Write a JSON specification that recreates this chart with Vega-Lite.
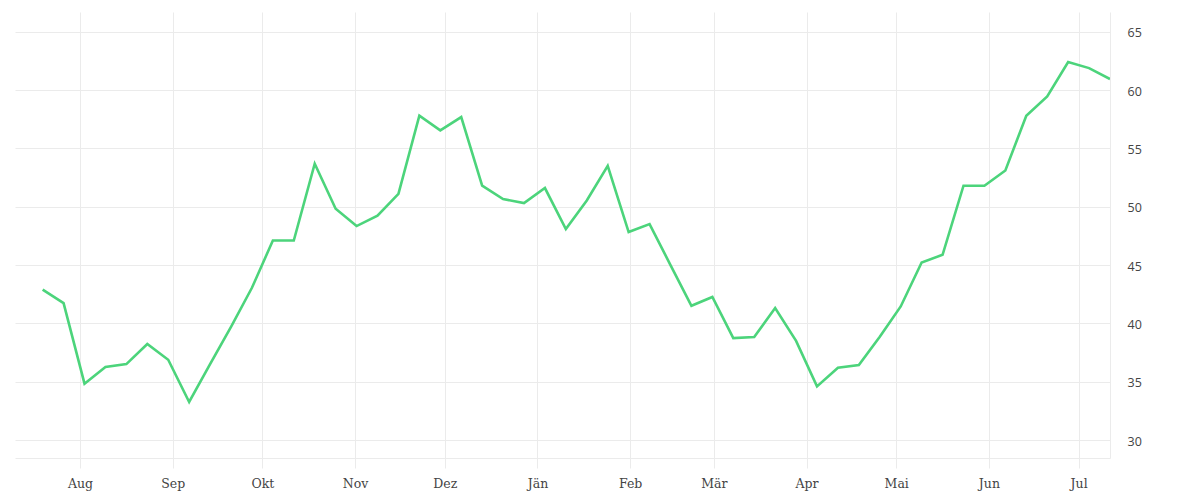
{
  "$schema": "https://vega.github.io/schema/vega-lite/v6.json",
  "width": 1095,
  "height": 446,
  "autosize": {"type": "none"},
  "padding": {"left": 15, "top": 12, "right": 90, "bottom": 42},
  "background": "#ffffff",
  "config": {"view": {"stroke": null}},
  "data": {
    "values": [
      {"date": "2021-07-19T12:00:00Z", "value": 42.9},
      {"date": "2021-07-26T12:00:00Z", "value": 41.74},
      {"date": "2021-08-02T12:00:00Z", "value": 34.83},
      {"date": "2021-08-09T12:00:00Z", "value": 36.26},
      {"date": "2021-08-16T12:00:00Z", "value": 36.51},
      {"date": "2021-08-23T12:00:00Z", "value": 38.23},
      {"date": "2021-08-30T12:00:00Z", "value": 36.88},
      {"date": "2021-09-06T12:00:00Z", "value": 33.26},
      {"date": "2021-09-13T12:00:00Z", "value": 36.5},
      {"date": "2021-09-20T12:00:00Z", "value": 39.7},
      {"date": "2021-09-27T12:00:00Z", "value": 43.05},
      {"date": "2021-10-04T12:00:00Z", "value": 47.1},
      {"date": "2021-10-11T12:00:00Z", "value": 47.1},
      {"date": "2021-10-18T12:00:00Z", "value": 53.68},
      {"date": "2021-10-25T12:00:00Z", "value": 49.82},
      {"date": "2021-11-01T12:00:00Z", "value": 48.34},
      {"date": "2021-11-08T12:00:00Z", "value": 49.23},
      {"date": "2021-11-15T12:00:00Z", "value": 51.1},
      {"date": "2021-11-22T12:00:00Z", "value": 57.8},
      {"date": "2021-11-29T12:00:00Z", "value": 56.54},
      {"date": "2021-12-06T12:00:00Z", "value": 57.68},
      {"date": "2021-12-13T12:00:00Z", "value": 51.8},
      {"date": "2021-12-20T12:00:00Z", "value": 50.66},
      {"date": "2021-12-27T12:00:00Z", "value": 50.31},
      {"date": "2022-01-03T12:00:00Z", "value": 51.6},
      {"date": "2022-01-10T12:00:00Z", "value": 48.09},
      {"date": "2022-01-17T12:00:00Z", "value": 50.54},
      {"date": "2022-01-24T12:00:00Z", "value": 53.51},
      {"date": "2022-01-31T12:00:00Z", "value": 47.83},
      {"date": "2022-02-07T12:00:00Z", "value": 48.51},
      {"date": "2022-02-14T12:00:00Z", "value": 45.0},
      {"date": "2022-02-21T12:00:00Z", "value": 41.51},
      {"date": "2022-02-28T12:00:00Z", "value": 42.26},
      {"date": "2022-03-07T12:00:00Z", "value": 38.74},
      {"date": "2022-03-14T12:00:00Z", "value": 38.83},
      {"date": "2022-03-21T12:00:00Z", "value": 41.31},
      {"date": "2022-03-28T12:00:00Z", "value": 38.5},
      {"date": "2022-04-04T12:00:00Z", "value": 34.6},
      {"date": "2022-04-11T12:00:00Z", "value": 36.2},
      {"date": "2022-04-18T12:00:00Z", "value": 36.43},
      {"date": "2022-04-25T12:00:00Z", "value": 38.85},
      {"date": "2022-05-02T12:00:00Z", "value": 41.45},
      {"date": "2022-05-09T12:00:00Z", "value": 45.22},
      {"date": "2022-05-16T12:00:00Z", "value": 45.88},
      {"date": "2022-05-23T12:00:00Z", "value": 51.8},
      {"date": "2022-05-30T12:00:00Z", "value": 51.8},
      {"date": "2022-06-06T12:00:00Z", "value": 53.11},
      {"date": "2022-06-13T12:00:00Z", "value": 57.8},
      {"date": "2022-06-20T12:00:00Z", "value": 59.45},
      {"date": "2022-06-27T12:00:00Z", "value": 62.4},
      {"date": "2022-07-04T12:00:00Z", "value": 61.88},
      {"date": "2022-07-11T12:00:00Z", "value": 60.94}
    ]
  },
  "mark": {"type": "line", "color": "#4cd47b", "strokeWidth": 2.6, "clip": true},
  "encoding": {
    "x": {
      "field": "date",
      "type": "temporal",
      "title": null,
      "scale": {
        "type": "utc",
        "domain": [
          {"year": 2021, "month": 7, "date": 10, "hours": 6, "utc": true},
          {"year": 2022, "month": 7, "date": 11, "hours": 12, "utc": true}
        ]
      },
      "axis": {
        "tickCount": {"interval": "month", "step": 1},
        "labelExpr": "['Jän','Feb','Mär','Apr','Mai','Jun','Jul','Aug','Sep','Okt','Nov','Dez'][utcmonth(datum.value)]",
        "grid": true,
        "gridColor": "#ebebeb",
        "gridWidth": 1,
        "domain": true,
        "domainColor": "#ebebeb",
        "ticks": true,
        "tickColor": "#ebebeb",
        "tickSize": 10,
        "labelFont": "DejaVu Serif",
        "labelFontSize": 12.5,
        "labelColor": "#444444",
        "labelPadding": 9,
        "labelFlush": false,
        "labelOverlap": false
      }
    },
    "y": {
      "field": "value",
      "type": "quantitative",
      "title": null,
      "scale": {"domain": [28.46, 66.69], "nice": false, "zero": false},
      "axis": {
        "orient": "right",
        "values": [30, 35, 40, 45, 50, 55, 60, 65],
        "grid": true,
        "gridColor": "#ebebeb",
        "domain": true,
        "domainColor": "#ebebeb",
        "ticks": false,
        "labelFont": "Open Sans",
        "labelFontSize": 12.5,
        "labelColor": "#444444",
        "labelPadding": 17,
        "labelAlign": "left",
        "labelBaseline": "middle",
        "labelOffset": 1
      }
    }
  }
}
